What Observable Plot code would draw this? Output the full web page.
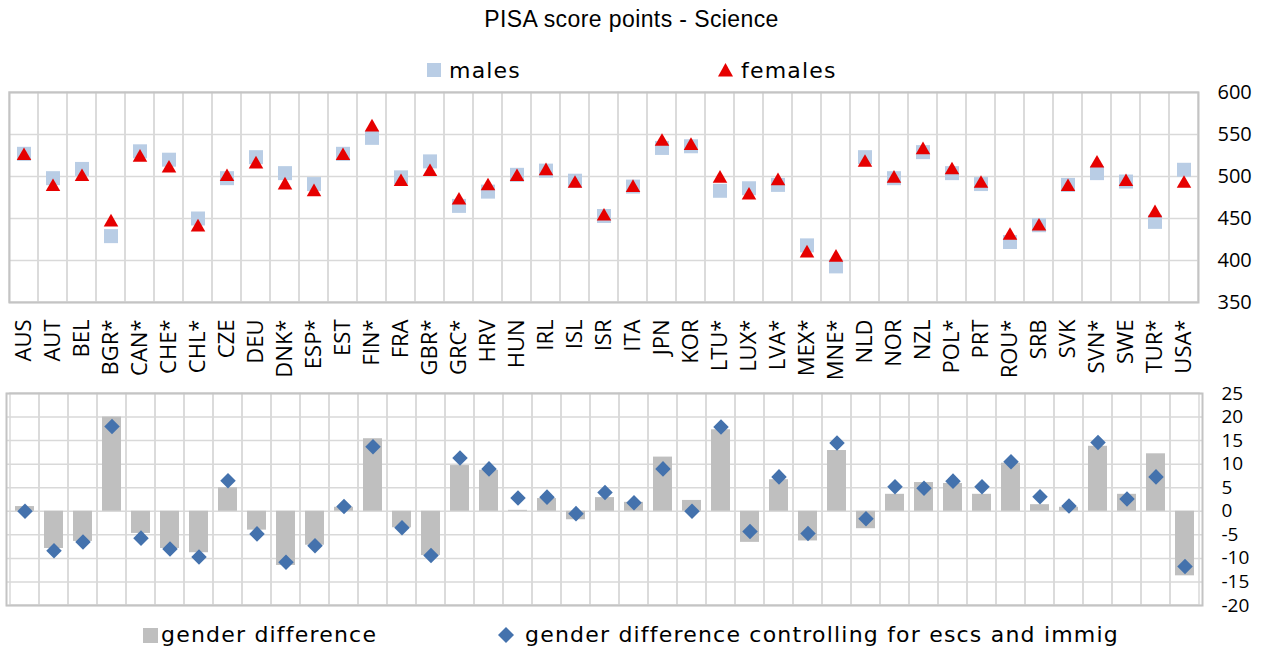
<!DOCTYPE html>
<html><head><meta charset="utf-8">
<script src="https://cdn.jsdelivr.net/npm/d3@7"></script>
<script src="https://cdn.jsdelivr.net/npm/@observablehq/plot@0.6"></script>
<style>
body{margin:0;background:#fff;}
#root{position:relative;width:1263px;height:651px;overflow:hidden;background:#fff;}
.abs{position:absolute;}
.leg{font-family:"DejaVu Sans";font-size:22px;letter-spacing:1.2px;line-height:22px;color:#000;white-space:nowrap;}
#title{left:0;top:8px;width:1263px;text-align:center;font-family:"Liberation Sans",Arial,sans-serif;font-size:23px;line-height:23px;letter-spacing:0.4px;color:#000;}
</style></head><body>
<div id="root">
  <div id="title" class="abs">PISA score points - Science</div>
  <div class="abs" style="left:427px;top:63px;width:14px;height:14px;background:#b9cde5"></div>
  <div class="abs leg" style="left:449px;top:60px">males</div>
  <svg class="abs" style="left:718px;top:63px" width="15" height="14"><polygon points="7.5,0 15,13.5 0,13.5" fill="#e60000"/></svg>
  <div class="abs leg" style="left:741px;top:60px">females</div>
  <div id="top" class="abs" style="left:0;top:80px"></div>
  <div id="bottom" class="abs" style="left:0;top:382px"></div>
  <div class="abs" style="left:143px;top:628px;width:15px;height:15px;background:#bfbfbf"></div>
  <div class="abs leg" style="left:161px;top:624px">gender difference</div>
  <svg class="abs" style="left:498px;top:627px" width="16" height="16"><polygon points="8,0 16,8 8,16 0,8" fill="#4472ad"/></svg>
  <div class="abs leg" style="left:525px;top:624px">gender difference controlling for escs and immig</div>
</div>
<script>
const countries = ["AUS","AUT","BEL","BGR*","CAN*","CHE*","CHL*","CZE","DEU","DNK*","ESP*","EST","FIN*","FRA","GBR*","GRC*","HRV","HUN","IRL","ISL","ISR","ITA","JPN","KOR","LTU*","LUX*","LVA*","MEX*","MNE*","NLD","NOR","NZL","POL*","PRT","ROU*","SRB","SVK","SVN*","SWE","TUR*","USA*"];
const males   = [527,498,509,429,530,520,450,498,523,504,491,527,546,499,518,465,482,502,507,495,453,488,534,536,483,486,490,418,393,523,498,529,504,491,422,442,490,504,494,446,508];
const females = [527,490,502,448,525,512,442,502,517,492,484,527,561,496,508,474,491,502,509,494,455,489,544,539,500,480,497,411,406,519,500,534,510,494,432,443,490,518,496,459,494];
const genderDiff = [1.0,-7.9,-6.4,20,-4.7,-7.9,-8.8,5,-4,-11.5,-7.2,0.85,15.4,-3.5,-9.4,9.7,8.7,0.2,2.7,-1.8,2.9,1.9,11.5,2.3,17.3,-6.6,6.7,-6.3,12.9,-3.7,3.6,6.1,5.9,3.6,10.2,1.4,0.85,13.8,3.6,12.2,-13.7];
const controlled = [0,-8.4,-6.5,18,-5.7,-8,-9.7,6.5,-4.8,-10.8,-7.3,1.0,13.7,-3.5,-9.4,11.3,9.0,2.8,3.0,-0.5,4.0,1.8,9.0,0,17.9,-4.3,7.3,-4.7,14.5,-1.6,5.2,4.9,6.4,5.2,10.5,3.1,1.1,14.6,2.6,7.3,-11.7];
const scoreTicks = [350,400,450,500,550,600];
const diffTicks = [-20,-15,-10,-5,0,5,10,15,20,25];

const rows = countries.map((c,i)=>({country:c, male:males[i], female:females[i], diff:genderDiff[i], ctrl:controlled[i]}));
const gridColor = "#d9d9d9";

const topChart = Plot.plot({
  width:1263, height:302,
  marginLeft:9, marginRight:65, marginTop:12, marginBottom:80,
  style:{fontFamily:"Open Sans", fontSize:"20px", background:"white", overflow:"visible", color:"#000"},
  x:{type:"band", domain:countries, padding:0, axis:null},
  y:{domain:[350,600], axis:null},
  marks:[
    Plot.cell(countries, {x:d=>d, fill:"none", stroke:gridColor, strokeWidth:1.5}),
    Plot.gridY(scoreTicks, {stroke:gridColor, strokeOpacity:1, strokeWidth:1.5}),
    Plot.frame({stroke:"#c4c4c4", strokeWidth:2}),
    Plot.axisY(scoreTicks, {anchor:"right", tickSize:0, tickPadding:19, tickFormat:d=>String(d), fontSize:20, textAnchor:"start", fill:"#000"}),
    Plot.dot(rows, {x:"country", y:"male", symbol:"square", r:7.9, fill:"#b9cde5"}),
    Plot.dot(rows, {x:"country", y:"female", symbol:"triangle", r:5.4, fill:"#e60000", dy:2}),
    Plot.text(countries, {x:d=>d, frameAnchor:"bottom", dy:17, rotate:-90, textAnchor:"end", lineAnchor:"middle", fontSize:22, fontFamily:"Open Sans", fill:"#000"})
  ]
});
document.getElementById("top").appendChild(topChart);

const bottomChart = Plot.plot({
  width:1263, height:231,
  marginLeft:6, marginRight:61, marginTop:11, marginBottom:8,
  style:{fontFamily:"Open Sans", fontSize:"19px", background:"white", overflow:"visible", color:"#000"},
  x:{type:"band", domain:countries, padding:0, axis:null},
  y:{domain:[-20,25], axis:null},
  marks:[
    Plot.cell(countries, {x:d=>d, fill:"none", stroke:gridColor, strokeWidth:1.5}),
    Plot.gridY(diffTicks, {stroke:gridColor, strokeOpacity:1, strokeWidth:1.5}),
    Plot.frame({stroke:"#c4c4c4", strokeWidth:2}),
    Plot.axisY(diffTicks, {anchor:"right", tickSize:0, tickPadding:19, tickFormat:d=>String(d), fontSize:19, textAnchor:"start", fill:"#000"}),
    Plot.barY(rows, {x:"country", y:"diff", fill:"#bfbfbf", insetLeft:5, insetRight:5}),
    Plot.dot(rows, {x:"country", y:"ctrl", symbol:"diamond2", r:7, fill:"#4472ad"})
  ]
});
document.getElementById("bottom").appendChild(bottomChart);
</script>
</body></html>
